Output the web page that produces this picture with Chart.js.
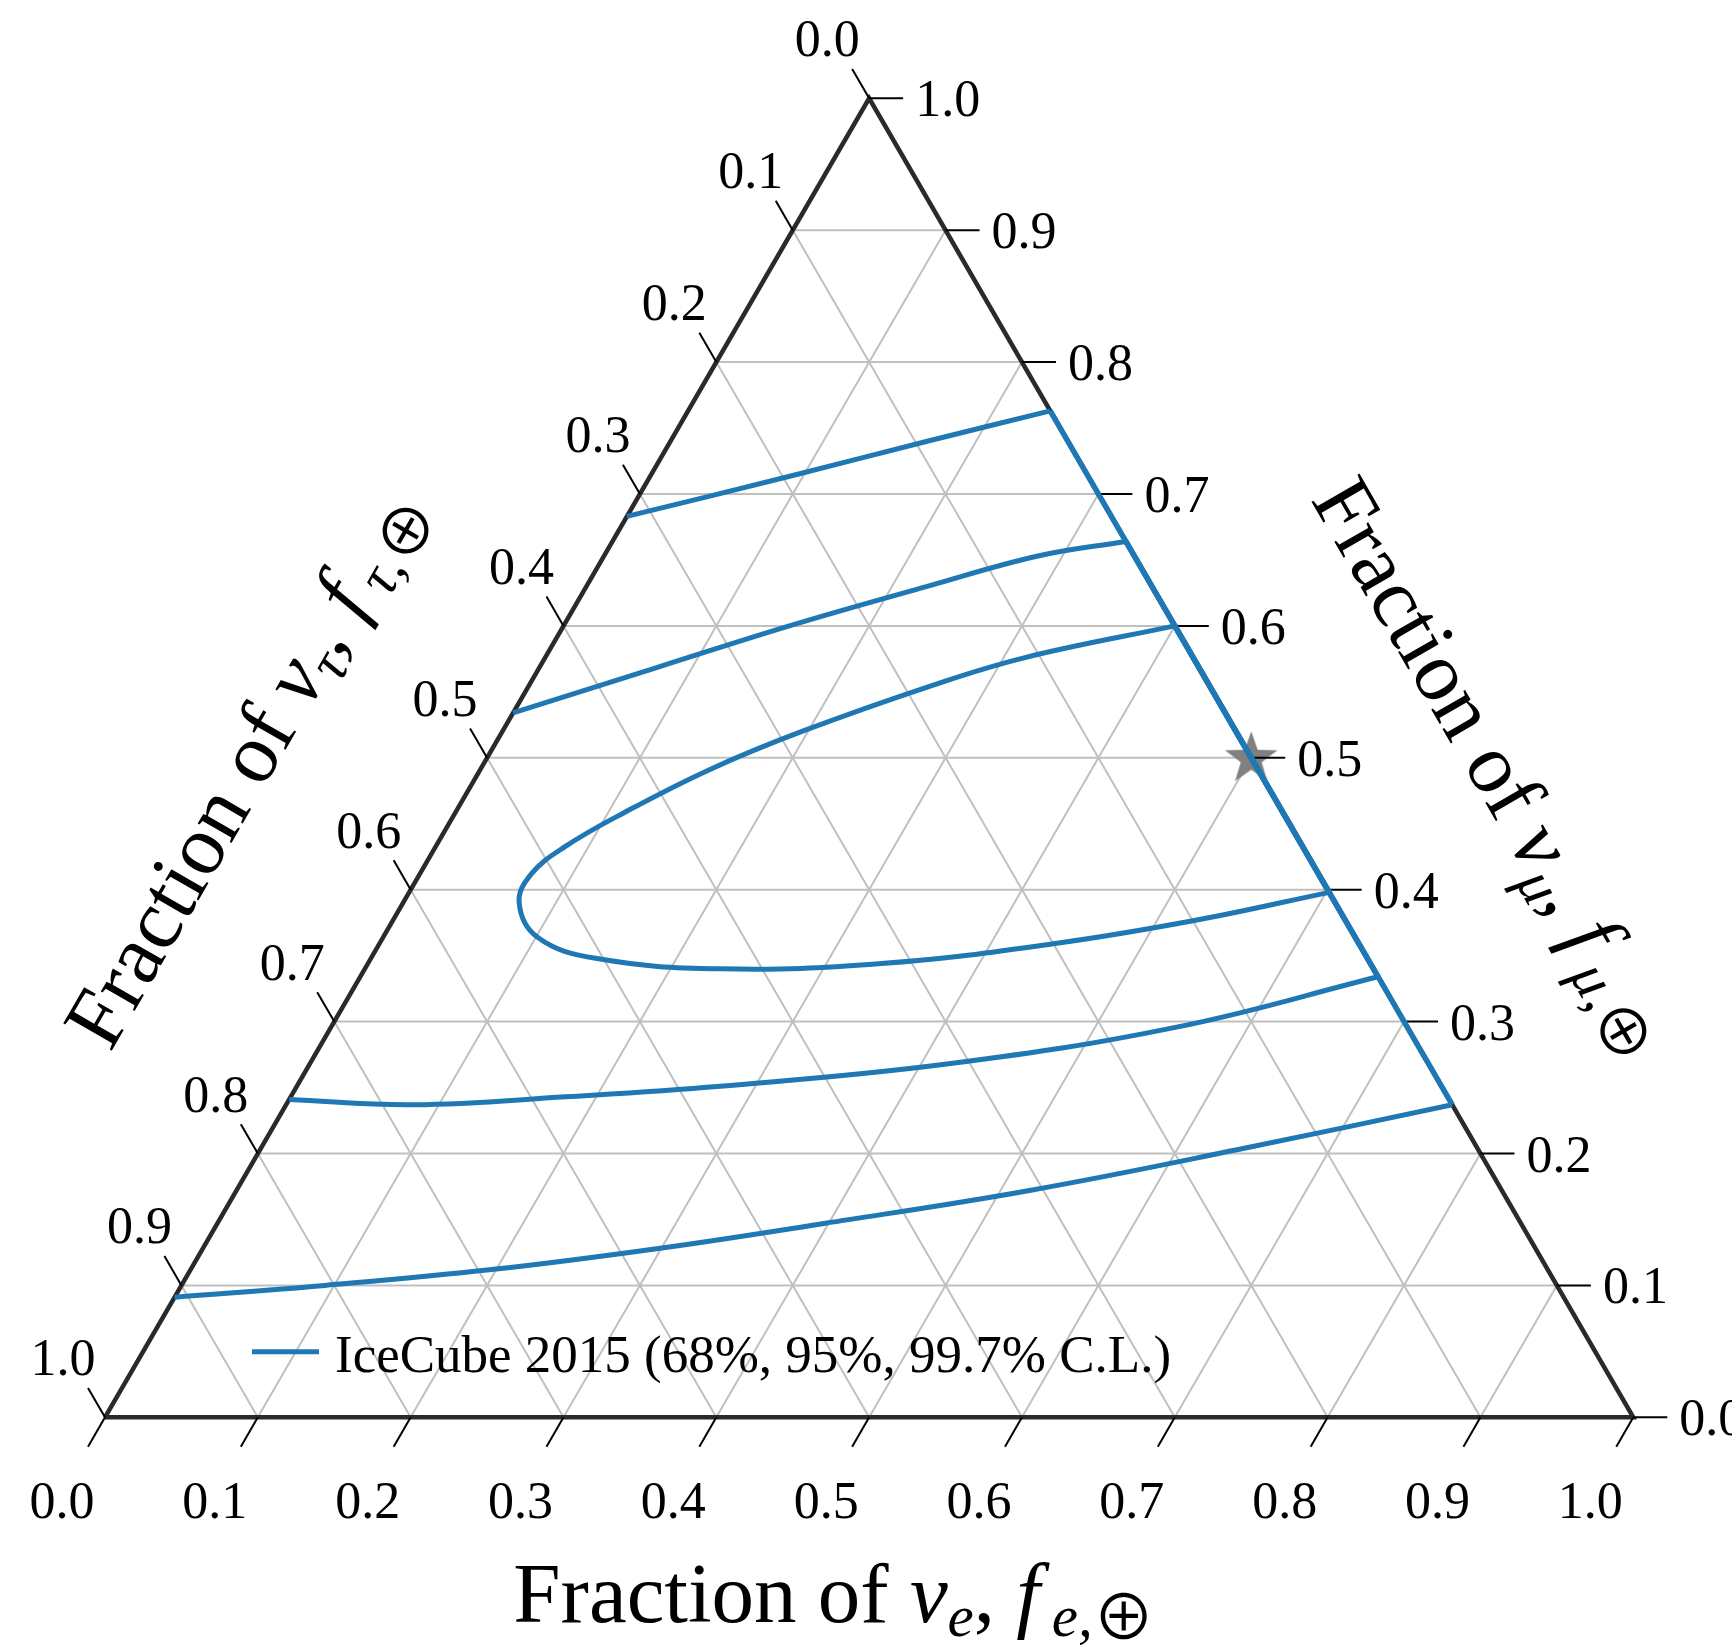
<!DOCTYPE html>
<html>
<head>
<meta charset="utf-8">
<script src="https://cdn.jsdelivr.net/npm/chart.js@4.4.1/dist/chart.umd.min.js"></script>
<style>
  html, body { margin: 0; padding: 0; background: #fff; }
  canvas { display: block; }
</style>
</head>
<body>
<canvas id="ternary" width="1732" height="1645"></canvas>
<script>
// Ternary plot of flavour fractions: every point is [f_e, f_mu], f_tau = 1 - f_e - f_mu

const tickValues = [0, 0.1, 0.2, 0.3, 0.4, 0.5, 0.6, 0.7, 0.8, 0.9, 1.0];
const tickLabels = ['0.0', '0.1', '0.2', '0.3', '0.4', '0.5', '0.6', '0.7', '0.8', '0.9', '1.0'];

// IceCube 2015 contours
const cl997Upper = [[0.000, 0.683], [0.093, 0.714], [0.168, 0.740], [0.237, 0.763]];
const cl997Lower = [[0.763, 0.237], [0.640, 0.203], [0.519, 0.172], [0.397, 0.147], [0.298, 0.128],
                    [0.197, 0.112], [0.094, 0.100], [0.000, 0.091]];
const cl95Upper = [[0.000, 0.534], [0.078, 0.569], [0.150, 0.601], [0.223, 0.630], [0.284, 0.653], [0.336, 0.664]];
const cl95Lower = [[0.666, 0.334], [0.554, 0.296], [0.418, 0.268], [0.277, 0.251], [0.180, 0.243],
                   [0.083, 0.237], [0.000, 0.241]];
const cl68 = [[0.400, 0.600], [0.314, 0.576], [0.264, 0.555], [0.196, 0.520],
              [0.150, 0.491], [0.110, 0.458], [0.085, 0.433], [0.073, 0.412], [0.076, 0.390],
              [0.101, 0.364], [0.147, 0.348], [0.233, 0.340], [0.336, 0.344], [0.441, 0.359],
              [0.526, 0.377], [0.602, 0.398]];
const sourcePoint = [0.5, 0.5];

const legendLabel = 'IceCube 2015 (68%, 95%, 99.7% C.L.)';

const BLUE = '#1f77b4';
const FONT = "'Liberation Serif', 'DejaVu Serif', serif";
const SQ3_2 = Math.sqrt(3) / 2;

function tern(fe, fmu) {
    return { x: fe + fmu / 2, y: fmu * SQ3_2 };
}

// pixel calibration of the triangle on the page
const X0 = 105, Y0 = 1417.3, SIDE = 1528.3, HEIGHT = 1319;
const W = 1732, H = 1645;
const yPx = HEIGHT / SQ3_2;

function lineDs(points, opts) {
    return Object.assign({
        data: points,
        showLine: true,
        pointRadius: 0,
        borderWidth: 2,
        borderColor: '#c0c0c0',
        tension: 0,
        fill: false
    }, opts);
}

const datasets = [];

// grid
tickValues.slice(1, -1).forEach(k => {
    const g = { order: 5 };
    datasets.push(lineDs([tern(0, k), tern(1 - k, k)], g));          // const f_mu
    datasets.push(lineDs([tern(k, 0), tern(k, 1 - k)], g));          // const f_e
    datasets.push(lineDs([tern(1 - k, 0), tern(0, 1 - k)], g));      // const f_tau
});

// ticks
const TL = 34 / SIDE;
tickValues.forEach(k => {
    const t = { order: 2, borderColor: '#000', borderWidth: 2 };
    const b = tern(k, 0);
    datasets.push(lineDs([b, { x: b.x - TL * 0.5, y: b.y - TL * SQ3_2 }], t));
    const r = tern(1 - k, k);
    datasets.push(lineDs([r, { x: r.x + TL, y: r.y }], t));
    const l = tern(0, 1 - k);
    datasets.push(lineDs([l, { x: l.x - TL * 0.5, y: l.y + TL * SQ3_2 }], t));
});

// triangle frame
datasets.push(lineDs([tern(0, 0), tern(1, 0), tern(0, 1), tern(0, 0)],
    { order: 2, borderColor: '#2a2a2a', borderWidth: 4.5, borderJoinStyle: 'miter' }));

// star marker
const star = document.createElement('canvas');
star.width = 58; star.height = 58;
(function () {
    const c = star.getContext('2d');
    const R = 27.5, r = 11;
    c.beginPath();
    for (let i = 0; i < 10; i++) {
        const a = -Math.PI / 2 + i * Math.PI / 5;
        const rr = i % 2 ? r : R;
        c.lineTo(29 + rr * Math.cos(a), 30 + rr * Math.sin(a));
    }
    c.closePath();
    c.fillStyle = '#808080';
    c.fill();
})();
datasets.push({
    data: [tern(sourcePoint[0], sourcePoint[1])],
    pointStyle: star,
    pointRadius: 12,
    showLine: false,
    order: 3
});

// contours
const curve = { order: 1, borderColor: BLUE, borderWidth: 5, tension: 0.4 };
const edge = { order: 1, borderColor: BLUE, borderWidth: 5.5, tension: 0 };
const toPts = arr => arr.map(p => tern(p[0], p[1]));

[[cl997Upper, cl997Lower], [cl95Upper, cl95Lower]].forEach(([up, lo]) => {
    datasets.push(lineDs(toPts(up), curve));
    datasets.push(lineDs(toPts([up[up.length - 1], lo[0]]), edge));
    datasets.push(lineDs(toPts(lo), curve));
});
datasets.push(lineDs(toPts(cl68), curve));
datasets.push(lineDs(toPts([cl68[0], cl68[cl68.length - 1]]), edge));

// draws text made of parts with their own font and baseline shift
function drawRich(ctx, parts, x, y, angle) {
    let total = 0;
    parts.forEach(p => { ctx.font = p.f; p.w = ctx.measureText(p.t).width; total += p.w; });
    ctx.save();
    ctx.translate(x, y);
    ctx.rotate(angle);
    ctx.textAlign = 'left';
    ctx.textBaseline = 'alphabetic';
    let cx = -total / 2;
    parts.forEach(p => {
        ctx.font = p.f;
        ctx.fillText(p.t, cx, p.dy || 0);
        cx += p.w;
    });
    ctx.restore();
}

function titleParts(greek, sub) {
    const big = '85px ' + FONT, ibig = 'italic 85px ' + FONT;
    const ismall = 'italic 59px ' + FONT;
    return [
        { t: 'Fraction of ', f: big },
        { t: greek, f: ibig },
        { t: sub, f: ismall, dy: 14 },
        { t: ', ', f: big },
        { t: 'f', f: ibig },
        { t: '\u2009' + sub + ',', f: ismall, dy: 14 },
        { t: '\u2295', f: "62px 'Noto Sans CJK JP', 'DejaVu Serif', serif", dy: 18 }
    ];
}

const labelsPlugin = {
    id: 'ternaryLabels',
    afterDatasetsDraw(chart) {
        const ctx = chart.ctx;
        const xs = chart.scales.x, ys = chart.scales.y;
        const px = p => ({ x: xs.getPixelForValue(p.x), y: ys.getPixelForValue(p.y) });

        ctx.save();
        ctx.fillStyle = '#000';
        ctx.font = '52px ' + FONT;
        ctx.textBaseline = 'alphabetic';
        tickValues.forEach((k, i) => {
            const b = px(tern(k, 0));
            ctx.textAlign = 'center';
            ctx.fillText(tickLabels[i], b.x - 43, b.y + 101);
            const l = px(tern(0, 1 - k));
            ctx.fillText(tickLabels[i], l.x - 42, l.y - 42);
            const r = px(tern(1 - k, k));
            ctx.textAlign = 'left';
            ctx.fillText(tickLabels[i], r.x + 46, r.y + 18);
        });

        // axis titles
        drawRich(ctx, titleParts('\u03bd', 'e'), 834, 1622, 0);
        drawRich(ctx, titleParts('\u03bd', '\u03c4'), 268, 780, -Math.PI / 3);
        drawRich(ctx, titleParts('\u03bd', '\u03bc'), 1472, 780, Math.PI / 3);

        // legend
        ctx.strokeStyle = BLUE;
        ctx.lineWidth = 5;
        ctx.beginPath();
        ctx.moveTo(252, 1351.7);
        ctx.lineTo(319, 1351.7);
        ctx.stroke();
        ctx.font = '53px ' + FONT;
        ctx.textAlign = 'left';
        ctx.fillText(legendLabel, 335, 1372);
        ctx.restore();
    }
};

new Chart(document.getElementById('ternary'), {
    type: 'scatter',
    data: { datasets },
    options: {
        responsive: false,
        animation: false,
        events: [],
        layout: { padding: 0, autoPadding: false },
        plugins: { legend: { display: false }, tooltip: { enabled: false } },
        scales: {
            x: { type: 'linear', display: false, min: -X0 / SIDE, max: (W - X0) / SIDE },
            y: { type: 'linear', display: false, min: -(H - Y0) / yPx, max: Y0 / yPx }
        }
    },
    plugins: [labelsPlugin]
});
</script>
</body>
</html>
